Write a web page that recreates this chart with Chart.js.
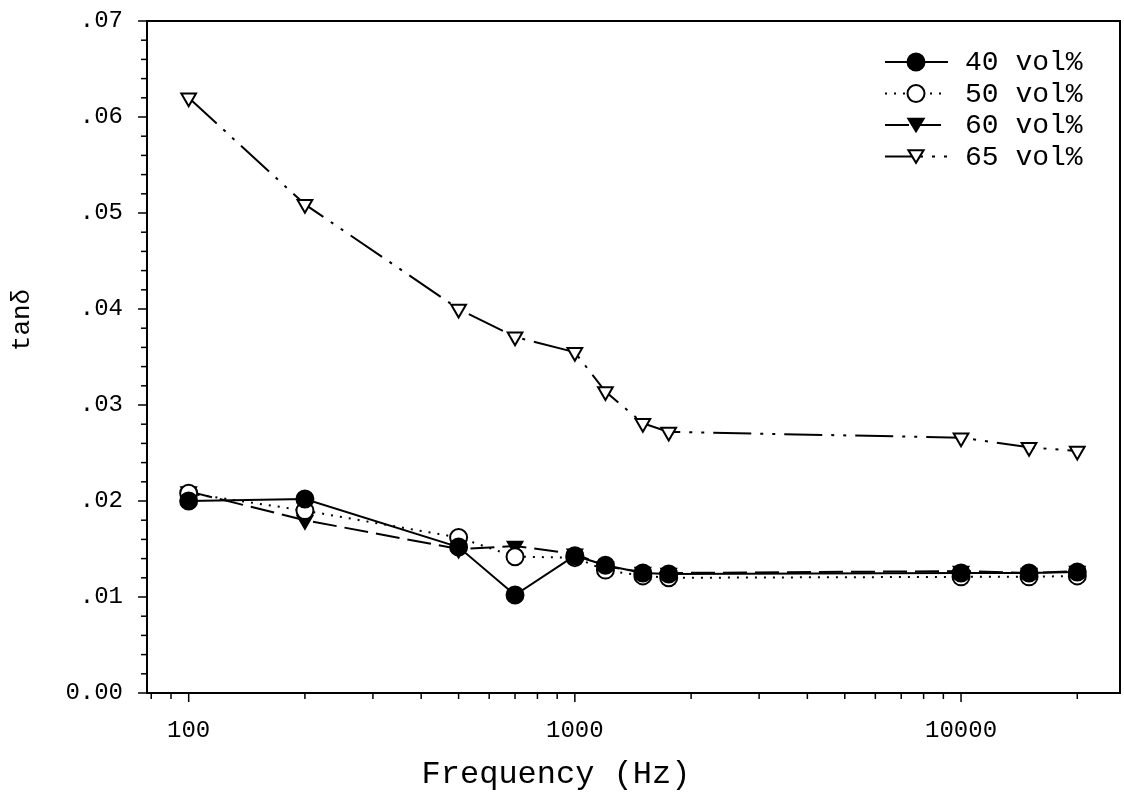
<!DOCTYPE html>
<html>
<head>
<meta charset="utf-8">
<script src="https://cdn.jsdelivr.net/npm/chart.js@4.4.0/dist/chart.umd.min.js"></script>
<style>
  html, body { margin: 0; padding: 0; background: #fff; }
</style>
</head>
<body>
<canvas id="grafico-tand" width="1124" height="800"></canvas>
<script>
// --- datos ---
const frecuencias = [100, 200, 500, 700, 1000, 1200, 1500, 1750, 10000, 15000, 20000];
const vol40 = [0.0200, 0.0202, 0.0152, 0.0102, 0.0143, 0.0133, 0.0125, 0.0124, 0.0125, 0.0125, 0.0126];
const vol50 = [0.0208, 0.0190, 0.0162, 0.0142, 0.0141, 0.0128, 0.0122, 0.0120, 0.0121, 0.0121, 0.0122];
const vol60 = [0.0210, 0.0180, 0.0150, 0.0153, 0.0145, 0.0132, 0.0126, 0.0125, 0.0127, 0.0125, 0.0127];
const vol65 = [0.0620, 0.0509, 0.0400, 0.0371, 0.0355, 0.0314, 0.0281, 0.0272, 0.0266, 0.0256, 0.0252];
const etiquetas = ['40 vol%', '50 vol%', '60 vol%', '65 vol%'];
const ticksX = [100, 1000, 10000];
const ticksY = [0, 0.01, 0.02, 0.03, 0.04, 0.05, 0.06, 0.07];

const FUENTE = '"Liberation Mono", "Courier New", monospace';

function puntos(serie) {
    return frecuencias.map((f, i) => ({ x: f, y: serie[i] }));
}

// marcador propio (para la leyenda)
function marcador(ctx, ds, x, y) {
    const r = ds.pointRadius;
    ctx.save();
    ctx.setLineDash([]);
    ctx.lineWidth = ds.pointBorderWidth;
    ctx.strokeStyle = '#000';
    ctx.fillStyle = ds.pointBackgroundColor;
    ctx.beginPath();
    if (ds.pointStyle === 'circle') {
        ctx.arc(x, y, r, 0, Math.PI * 2);
    } else {
        const h = r * 1.5;
        ctx.moveTo(x - r * 0.9, y - h / 2);
        ctx.lineTo(x + r * 0.9, y - h / 2);
        ctx.lineTo(x, y + h / 2);
        ctx.closePath();
    }
    ctx.fill();
    ctx.stroke();
    ctx.restore();
}

const marco = {
    id: 'marco',
    afterDraw(chart) {
        const { ctx, chartArea: a, scales: { x, y } } = chart;
        ctx.save();
        ctx.strokeStyle = '#000';
        ctx.lineWidth = 2;
        ctx.strokeRect(a.left, a.top, a.right - a.left, a.bottom - a.top);

        // ticks eje y (menores cada .002)
        ctx.lineWidth = 1.5;
        for (let i = 0; i <= 35; i++) {
            const py = y.getPixelForValue(i * 0.002);
            const len = i % 5 === 0 ? 9 : 6;
            ctx.beginPath();
            ctx.moveTo(a.left - len, py);
            ctx.lineTo(a.left, py);
            ctx.stroke();
        }
        // ticks eje x (log)
        for (let d = 10; d <= 10000; d *= 10) {
            for (let m = 1; m < 10; m++) {
                const v = d * m;
                if (v < x.min || v > x.max) continue;
                const px = x.getPixelForValue(v);
                const len = m === 1 ? 9 : 6;
                ctx.beginPath();
                ctx.moveTo(px, a.bottom);
                ctx.lineTo(px, a.bottom + len);
                ctx.stroke();
            }
        }

        // leyenda
        ctx.font = '28px ' + FUENTE;
        ctx.fillStyle = '#000';
        ctx.textBaseline = 'middle';
        chart.data.datasets.forEach((ds, i) => {
            const ly = a.top + 41 + i * 31.5;
            ctx.save();
            ctx.lineWidth = ds.borderWidth;
            ctx.setLineDash(ds.borderDash || []);
            ctx.beginPath();
            ctx.moveTo(a.right - 235, ly);
            ctx.lineTo(a.right - 172, ly);
            ctx.stroke();
            ctx.restore();
            marcador(ctx, ds, a.right - 204, ly);
            ctx.fillText(ds.label, a.right - 155, ly + 1);
        });

        // títulos de ejes
        ctx.textAlign = 'center';
        ctx.font = '32px ' + FUENTE;
        ctx.fillText('Frequency (Hz)', 556, 775);
        ctx.font = '26px ' + FUENTE;
        ctx.translate(22, 320);
        ctx.rotate(-Math.PI / 2);
        ctx.fillText('tanδ', 0, 0);
        ctx.restore();
    }
};

const comun = {
    borderColor: '#000',
    borderWidth: 2,
    pointRadius: 8.5,
    pointHoverRadius: 8.5,
    pointBorderColor: '#000',
    pointBorderWidth: 2,
    fill: false,
    tension: 0
};

new Chart(document.getElementById('grafico-tand'), {
    type: 'line',
    data: {
        datasets: [
            { ...comun, label: etiquetas[0], data: puntos(vol40), pointStyle: 'circle', pointBackgroundColor: '#000', borderDash: [] },
            { ...comun, label: etiquetas[1], data: puntos(vol50), pointStyle: 'circle', pointBackgroundColor: '#fff', borderDash: [2, 7] },
            { ...comun, label: etiquetas[2], data: puntos(vol60), pointStyle: 'triangle', pointRotation: 180, pointBackgroundColor: '#000', borderDash: [24, 8] },
            { ...comun, label: etiquetas[3], data: puntos(vol65), pointStyle: 'triangle', pointRotation: 180, pointBackgroundColor: '#fff', borderDash: [38, 9, 3, 9, 3, 9] }
        ]
    },
    options: {
        responsive: false,
        animation: false,
        devicePixelRatio: 1,
        layout: { autoPadding: false, padding: { top: 21, right: 4, left: 0, bottom: 0 } },
        plugins: { legend: { display: false }, tooltip: { enabled: false } },
        scales: {
            x: {
                type: 'logarithmic',
                min: 78,
                max: 25800,
                afterBuildTicks: s => { s.ticks = ticksX.map(v => ({ value: v })); },
                afterFit: s => { s.height = 107; s.paddingLeft = 0; s.paddingRight = 0; },
                grid: { display: false },
                border: { display: false },
                ticks: {
                    autoSkip: false, maxRotation: 0, padding: 15, color: '#000',
                    font: { family: FUENTE, size: 24 },
                    callback: v => String(v)
                }
            },
            y: {
                min: 0,
                max: 0.07,
                afterBuildTicks: s => { s.ticks = ticksY.map(v => ({ value: v })); },
                afterFit: s => { s.width = 147; s.paddingTop = 0; s.paddingBottom = 0; },
                grid: { display: false },
                border: { display: false },
                ticks: {
                    padding: 16, color: '#000',
                    font: { family: FUENTE, size: 24 },
                    callback: v => v === 0 ? '0.00' : '.' + String(Math.round(v * 100)).padStart(2, '0')
                }
            }
        }
    },
    plugins: [marco]
});
</script>
</body>
</html>
